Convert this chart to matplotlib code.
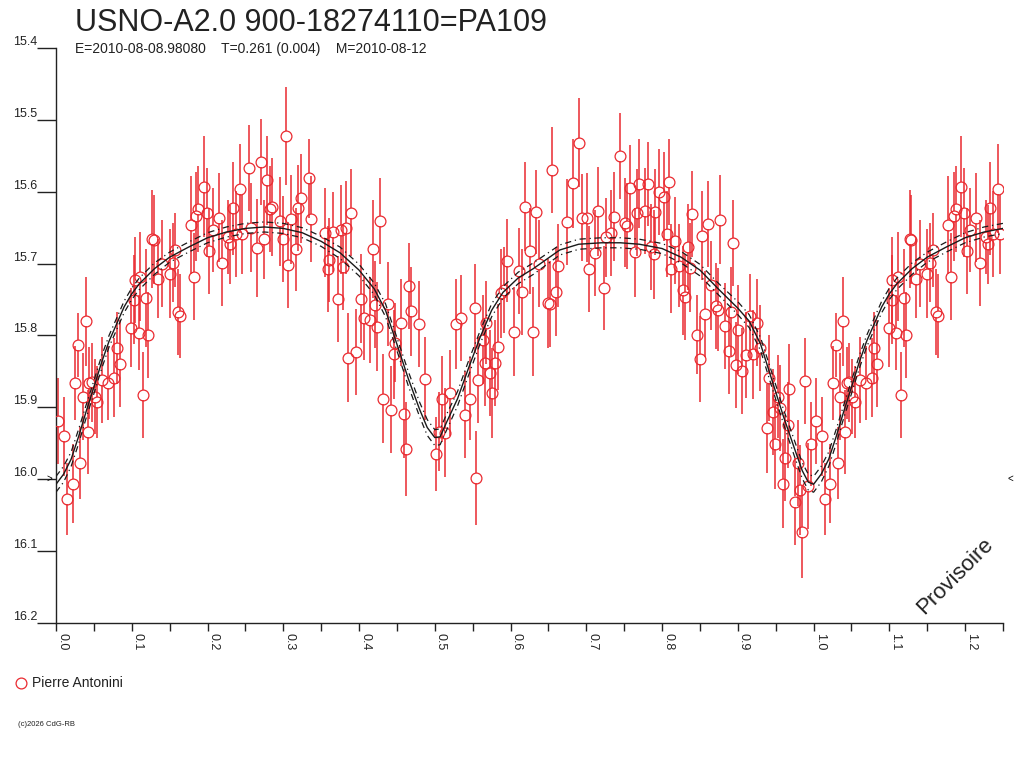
import numpy as np
import matplotlib
matplotlib.use("Agg")
from matplotlib import pyplot as plt

plt.rcParams["font.family"] = ["Liberation Sans", "DejaVu Sans"]

# observations (phase 0..1), magnitude and error
phase = [0.003, 0.011, 0.015, 0.022, 0.025, 0.029, 0.032, 0.035, 0.039, 0.042,
         0.044, 0.047, 0.051, 0.054, 0.061, 0.069, 0.077, 0.080, 0.084, 0.099,
         0.103, 0.104, 0.109, 0.111, 0.115, 0.119, 0.122, 0.127, 0.129, 0.135,
         0.140, 0.150, 0.154, 0.157, 0.161, 0.164, 0.178, 0.182, 0.185, 0.188,
         0.195, 0.199, 0.202, 0.207, 0.215, 0.219, 0.227, 0.230, 0.233, 0.237,
         0.243, 0.246, 0.255, 0.258, 0.265, 0.271, 0.274, 0.278, 0.282, 0.285,
         0.296, 0.299, 0.303, 0.306, 0.310, 0.317, 0.319, 0.323, 0.334, 0.337,
         0.355, 0.359, 0.361, 0.365, 0.372, 0.376, 0.379, 0.383, 0.385, 0.389,
         0.396, 0.403, 0.406, 0.414, 0.418, 0.421, 0.424, 0.428, 0.432, 0.438,
         0.442, 0.446, 0.448, 0.455, 0.459, 0.462, 0.466, 0.469, 0.479, 0.487,
         0.501, 0.505, 0.509, 0.514, 0.520, 0.528, 0.535, 0.540, 0.546, 0.553,
         0.555, 0.557, 0.563, 0.566, 0.568, 0.573, 0.576, 0.580, 0.583, 0.587,
         0.592, 0.595, 0.604, 0.611, 0.615, 0.619, 0.626, 0.629, 0.633, 0.637,
         0.649, 0.652, 0.655, 0.660, 0.662, 0.674, 0.683, 0.690, 0.694, 0.701,
         0.704, 0.712, 0.715, 0.723, 0.726, 0.733, 0.736, 0.744, 0.751, 0.754,
         0.758, 0.764, 0.767, 0.770, 0.778, 0.781, 0.785, 0.789, 0.791, 0.796,
         0.802, 0.806, 0.809, 0.812, 0.817, 0.822, 0.827, 0.830, 0.834, 0.837,
         0.840, 0.846, 0.850, 0.853, 0.857, 0.860, 0.865, 0.871, 0.874, 0.877,
         0.883, 0.888, 0.891, 0.894, 0.898, 0.900, 0.905, 0.911, 0.916, 0.920,
         0.925, 0.929, 0.938, 0.941, 0.946, 0.949, 0.953, 0.956, 0.959, 0.962,
         0.966, 0.968, 0.976, 0.979, 0.982, 0.985, 0.989, 0.993, 0.997]
mag = [15.919, 15.940, 16.027, 16.006, 15.866, 15.813, 15.977, 15.885, 15.780, 15.934,
       15.866, 15.865, 15.885, 15.892, 15.862, 15.866, 15.859, 15.817, 15.839, 15.789,
       15.750, 15.723, 15.796, 15.718, 15.883, 15.748, 15.799, 15.666, 15.667, 15.721,
       15.700, 15.714, 15.699, 15.681, 15.767, 15.773, 15.646, 15.718, 15.634, 15.624,
       15.593, 15.629, 15.682, 15.653, 15.636, 15.699, 15.663, 15.673, 15.623, 15.659,
       15.596, 15.659, 15.567, 15.650, 15.678, 15.559, 15.666, 15.584, 15.624, 15.621,
       15.641, 15.666, 15.522, 15.702, 15.638, 15.680, 15.623, 15.609, 15.581, 15.638,
       15.657, 15.707, 15.695, 15.656, 15.749, 15.653, 15.705, 15.650, 15.831, 15.629,
       15.823, 15.749, 15.776, 15.778, 15.680, 15.757, 15.788, 15.641, 15.888, 15.756,
       15.903, 15.826, 15.810, 15.782, 15.909, 15.958, 15.731, 15.766, 15.784, 15.860,
       15.965, 15.934, 15.888, 15.935, 15.880, 15.784, 15.776, 15.910, 15.888, 15.762,
       15.998, 15.862, 15.806, 15.838, 15.782, 15.852, 15.880, 15.838, 15.816, 15.741,
       15.737, 15.696, 15.795, 15.710, 15.739, 15.621, 15.682, 15.795, 15.628, 15.700,
       15.755, 15.756, 15.570, 15.739, 15.703, 15.642, 15.588, 15.532, 15.636, 15.636,
       15.707, 15.685, 15.627, 15.734, 15.663, 15.657, 15.635, 15.550, 15.643, 15.648,
       15.595, 15.684, 15.629, 15.589, 15.627, 15.589, 15.677, 15.687, 15.628, 15.600,
       15.607, 15.659, 15.586, 15.707, 15.668, 15.703, 15.737, 15.746, 15.677, 15.706,
       15.631, 15.799, 15.833, 15.661, 15.770, 15.645, 15.730, 15.759, 15.764, 15.639,
       15.787, 15.821, 15.767, 15.671, 15.841, 15.792, 15.849, 15.827, 15.773, 15.826,
       15.782, 15.817, 15.929, 15.859, 15.906, 15.951, 15.885, 15.901, 16.006, 15.970,
       15.924, 15.874, 16.031, 15.977, 16.015, 16.073, 15.863, 16.009, 15.951]
mag_err = [0.060, 0.055, 0.050, 0.055, 0.052, 0.045, 0.050, 0.060, 0.062, 0.058,
           0.050, 0.055, 0.052, 0.050, 0.060, 0.052, 0.055, 0.050, 0.060, 0.055,
           0.062, 0.060, 0.052, 0.062, 0.060, 0.068, 0.060, 0.068, 0.062, 0.055,
           0.060, 0.062, 0.055, 0.052, 0.060, 0.058, 0.068, 0.060, 0.062, 0.060,
           0.070, 0.062, 0.060, 0.058, 0.062, 0.060, 0.052, 0.055, 0.065, 0.060,
           0.062, 0.055, 0.060, 0.062, 0.068, 0.060, 0.055, 0.062, 0.060, 0.068,
           0.062, 0.060, 0.068, 0.060, 0.062, 0.058, 0.060, 0.062, 0.055, 0.060,
           0.062, 0.060, 0.058, 0.055, 0.060, 0.062, 0.060, 0.065, 0.062, 0.060,
           0.060, 0.062, 0.058, 0.060, 0.068, 0.060, 0.062, 0.060, 0.062, 0.058,
           0.060, 0.062, 0.055, 0.060, 0.062, 0.065, 0.060, 0.062, 0.060, 0.058,
           0.052, 0.055, 0.060, 0.062, 0.060, 0.062, 0.060, 0.060, 0.058, 0.062,
           0.065, 0.060, 0.062, 0.060, 0.058, 0.060, 0.062, 0.060, 0.060, 0.062,
           0.060, 0.058, 0.062, 0.060, 0.060, 0.062, 0.060, 0.062, 0.058, 0.060,
           0.062, 0.060, 0.060, 0.062, 0.058, 0.060, 0.062, 0.062, 0.060, 0.062,
           0.060, 0.060, 0.062, 0.058, 0.055, 0.060, 0.062, 0.060, 0.062, 0.060,
           0.060, 0.062, 0.060, 0.062, 0.060, 0.058, 0.060, 0.062, 0.060, 0.060,
           0.062, 0.060, 0.060, 0.062, 0.060, 0.058, 0.062, 0.060, 0.060, 0.062,
           0.060, 0.055, 0.060, 0.062, 0.060, 0.060, 0.062, 0.060, 0.058, 0.062,
           0.060, 0.060, 0.062, 0.060, 0.060, 0.062, 0.060, 0.060, 0.058, 0.062,
           0.060, 0.060, 0.062, 0.060, 0.060, 0.062, 0.058, 0.060, 0.062, 0.060,
           0.060, 0.062, 0.060, 0.060, 0.062, 0.065, 0.060, 0.060, 0.058]

# fitted model curve and its uncertainty band
model_phase = [0.000, 0.010, 0.020, 0.030, 0.040, 0.050, 0.060, 0.070, 0.080, 0.090,
               0.100, 0.110, 0.130, 0.150, 0.175, 0.200, 0.225, 0.250, 0.275, 0.300,
               0.325, 0.350, 0.375, 0.400, 0.420, 0.435, 0.450, 0.465, 0.480, 0.490,
               0.500, 0.507, 0.515, 0.530, 0.545, 0.560, 0.575, 0.590, 0.610, 0.630,
               0.665, 0.690, 0.720, 0.745, 0.770, 0.800, 0.825, 0.850, 0.875, 0.900,
               0.915, 0.930, 0.945, 0.960, 0.975, 0.985, 0.993, 1.000]
model_mag = [16.007, 15.993, 15.972, 15.940, 15.905, 15.872, 15.838, 15.808, 15.784, 15.760,
             15.742, 15.728, 15.707, 15.691, 15.677, 15.664, 15.656, 15.651, 15.649, 15.651,
             15.657, 15.669, 15.685, 15.709, 15.735, 15.765, 15.812, 15.860, 15.903, 15.928,
             15.942, 15.941, 15.922, 15.888, 15.844, 15.802, 15.765, 15.740, 15.720, 15.707,
             15.681, 15.673, 15.671, 15.671, 15.673, 15.679, 15.691, 15.709, 15.736, 15.762,
             15.780, 15.812, 15.862, 15.912, 15.958, 15.988, 16.004, 16.007]
model_band = [0.011, 0.011, 0.010, 0.010, 0.009, 0.009, 0.009, 0.008, 0.008, 0.008,
              0.008, 0.008, 0.008, 0.007, 0.007, 0.007, 0.007, 0.007, 0.007, 0.007,
              0.007, 0.007, 0.008, 0.008, 0.008, 0.009, 0.009, 0.010, 0.010, 0.011,
              0.011, 0.011, 0.011, 0.010, 0.010, 0.009, 0.009, 0.008, 0.008, 0.008,
              0.007, 0.007, 0.007, 0.007, 0.007, 0.007, 0.008, 0.008, 0.008, 0.009,
              0.009, 0.009, 0.010, 0.010, 0.011, 0.011, 0.011, 0.011]

title = "USNO-A2.0 900-18274110=PA109"
subtitle = "E=2010-08-08.98080    T=0.261 (0.004)    M=2010-08-12"
observer = "Pierre Antonini"

RED = "#ea2a30"
W, H = 1024, 768

phase = np.array(phase)
mag = np.array(mag)
mag_err = np.array(mag_err)
model_phase = np.array(model_phase)
model_mag = np.array(model_mag)
model_band = np.array(model_band)

# repeat the start of the cycle after phase 1
rep = phase <= 0.25
ph_all = np.concatenate([phase, phase[rep] + 1])
mag_all = np.concatenate([mag, mag[rep]])
err_all = np.concatenate([mag_err, mag_err[rep]])

mrep = (model_phase > 0) & (model_phase <= 0.25)
mph = np.concatenate([model_phase, model_phase[mrep] + 1])
mmag = np.concatenate([model_mag, model_mag[mrep]])
mband = np.concatenate([model_band, model_band[mrep]])

fig = plt.figure(figsize=(W / 100, H / 100), dpi=100)
ax = fig.add_axes([56 / W, (H - 623) / H, (1003 - 56) / W, (623 - 48) / H])

ax.set_xlim(0, 1.25)
ax.set_ylim(16.2, 15.4)

# error bars start at the edge of the open circle
r = 0.007
ax.vlines(ph_all, mag_all - err_all, mag_all - r, color=RED, lw=1.1, zorder=2)
ax.vlines(ph_all, mag_all + r, mag_all + err_all, color=RED, lw=1.1, zorder=2)
ax.plot(ph_all, mag_all, "o", ms=7.8, mfc="none", mec=RED, mew=0.9, zorder=3)

ax.plot(mph, mmag, color="#1a1a1a", lw=1.0, zorder=4)
ax.plot(mph, mmag - mband, color="#1a1a1a", lw=0.9, dashes=(5, 3, 1, 3), zorder=4)
ax.plot(mph, mmag + mband, color="#1a1a1a", lw=0.9, dashes=(5, 3, 1, 3), zorder=4)

for s in ["top", "right"]:
    ax.spines[s].set_visible(False)
for s in ["left", "bottom"]:
    ax.spines[s].set_linewidth(1.0)
    ax.spines[s].set_color("#222222")

ax.set_yticks(np.arange(15.4, 16.21, 0.1))
ax.set_yticklabels(["%.1f" % v for v in np.arange(15.4, 16.21, 0.1)], fontsize=9,
                   va="bottom", color="#222222")
ax.tick_params(axis="y", direction="out", length=13.5, width=1.0, pad=0, color="#222222")

ax.set_xticks(np.arange(0, 1.21, 0.1))
ax.set_xticks(np.arange(0.05, 1.26, 0.1), minor=True)
ax.set_xticklabels(["%.1f" % v for v in np.arange(0, 1.21, 0.1)], fontsize=9,
                   rotation=270, ha="left", va="top", color="#222222")
ax.tick_params(axis="x", which="both", direction="out", length=6, width=1.0,
               pad=1, color="#222222")

# level markers at 16.0
ax.text(-0.004, 16.0, ">", fontsize=7, ha="right", va="center",
        transform=ax.get_yaxis_transform())
ax.text(1.0045, 16.0, "<", fontsize=7, ha="left", va="center",
        transform=ax.get_yaxis_transform())

fig.text(75 / W, 1 - 31 / H, title, fontsize=22, va="baseline", color="#222222")
fig.text(75 / W, 1 - 53 / H, subtitle, fontsize=10, va="baseline", color="#222222")
fig.text(955 / W, 1 - 576 / H, "Provisoire", fontsize=16, rotation=45,
         ha="center", va="center", color="#222222")

# legend and credit
fig.lines.append(plt.Line2D([21 / W], [1 - 683 / H], marker="o", ms=7.8, mfc="none",
                            mec=RED, mew=0.9, transform=fig.transFigure))
fig.text(32 / W, 1 - 683 / H, observer, fontsize=10, va="center", color="#222222")
fig.text(18 / W, 1 - 725 / H, "(c)2026 CdG-RB", fontsize=5.5, va="center", color="#222222")

fig.savefig("out.png", dpi=100)
